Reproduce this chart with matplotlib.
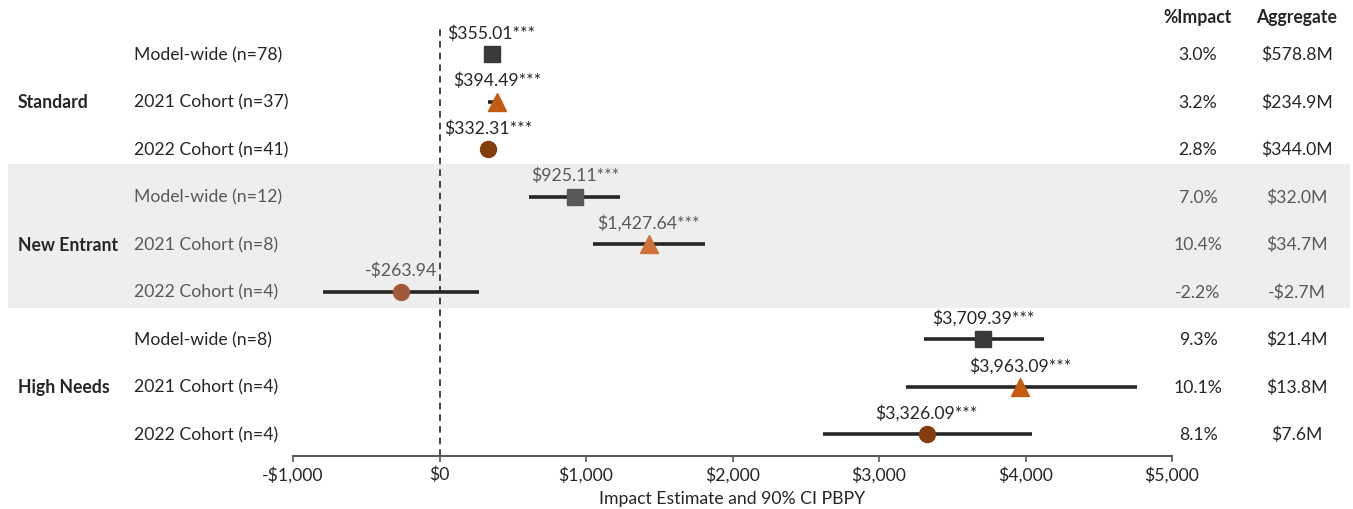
import matplotlib
matplotlib.use("Agg")
import matplotlib.pyplot as plt
from matplotlib.transforms import blended_transform_factory
from matplotlib.patches import Rectangle
from matplotlib.ticker import FuncFormatter

# ---- data ----
groups = ["Standard", "New Entrant", "High Needs"]
row_labels = ["Model-wide (n=78)", "2021 Cohort (n=37)", "2022 Cohort (n=41)",
              "Model-wide (n=12)", "2021 Cohort (n=8)", "2022 Cohort (n=4)",
              "Model-wide (n=8)", "2021 Cohort (n=4)", "2022 Cohort (n=4)"]
estimates = [355.01, 394.49, 332.31, 925.11, 1427.64, -263.94, 3709.39, 3963.09, 3326.09]
ci_low = [315, 334, 290, 614, 1051, -792, 3304, 3181, 2621]
ci_high = [395, 430, 375, 1235, 1809, 273, 4123, 4758, 4041]
stars = ["***", "***", "***", "***", "***", "", "***", "***", "***"]
pct_impact = ["3.0%", "3.2%", "2.8%", "7.0%", "10.4%", "-2.2%", "9.3%", "10.1%", "8.1%"]
aggregate = ["$578.8M", "$234.9M", "$344.0M", "$32.0M", "$34.7M", "-$2.7M",
             "$21.4M", "$13.8M", "$7.6M"]
x_ticks = [-1000, 0, 1000, 2000, 3000, 4000, 5000]

# ---- styling ----
FONT = "Lato"
FS = 12.7
plt.rcParams["font.family"] = [FONT, "DejaVu Sans"]
markers = ["s", "^", "o"]
msizes = [11.5, 13, 11.5]
colors_std = ["#3a3a3a", "#c55a11", "#843c0c"]
colors_ne = ["#595959", "#d0703a", "#a05a3a"]
text_dark = "#262626"
text_ne = "#595959"

W, H = 1353, 510
fig = plt.figure(figsize=(W / 100, H / 100), dpi=100)
ax = fig.add_axes([293 / W, 1 - 457 / H, (1172 - 293) / W, (457 - 30) / H])

rows = list(range(len(estimates)))
ax.set_xlim(-1000, 5000)
ax.set_ylim(8.46, -0.53)

bt = blended_transform_factory(fig.transFigure, ax.transData)

# shaded band behind the New Entrant group
band = Rectangle((8 / W, 2.32), (1350 - 8) / W, 3.03, transform=bt,
                 facecolor="#eeeeee", edgecolor="none", zorder=0, clip_on=False)
ax.add_patch(band)

# reference line at zero
ax.axvline(0, color="#262626", lw=1.2, ls=(0, (4, 3)), zorder=1)

for i in rows:
    g = i // 3
    k = i % 3
    is_ne = g == 1
    col = colors_ne[k] if is_ne else colors_std[k]
    ax.plot([ci_low[i], ci_high[i]], [i, i], color="#262626", lw=2.6,
            solid_capstyle="butt", zorder=2)
    ax.plot(estimates[i], i, marker=markers[k], ms=msizes[k], color=col,
            mec=col, ls="none", zorder=3)
    v = estimates[i]
    lab = ("-" if v < 0 else "") + "${:,.2f}".format(abs(v)) + stars[i]
    ax.annotate(lab, (v, i), xytext=(0, 15.5), textcoords="offset points",
                ha="center", va="center", fontsize=FS,
                color=text_ne if is_ne else text_dark, zorder=4)
    tc = text_ne if is_ne else text_dark
    ax.text(134 / W, i, row_labels[i], transform=bt, ha="left", va="center",
            fontsize=FS, color=tc, clip_on=False)
    ax.text(1198 / W, i, pct_impact[i], transform=bt, ha="center", va="center",
            fontsize=FS, color=tc, clip_on=False)
    ax.text(1297 / W, i, aggregate[i], transform=bt, ha="center", va="center",
            fontsize=FS, color=tc, clip_on=False)

for g, name in enumerate(groups):
    ax.text(18 / W, g * 3 + 1, name, transform=bt, ha="left", va="center",
            fontsize=FS, fontweight="bold", color=text_dark, clip_on=False)

fig.text(1198 / W, 1 - 18 / H, "%Impact", ha="center", va="center",
         fontsize=FS, fontweight="bold", color=text_dark)
fig.text(1297 / W, 1 - 18 / H, "Aggregate", ha="center", va="center",
         fontsize=FS, fontweight="bold", color=text_dark)

# axes cosmetics
for s in ["top", "right", "left"]:
    ax.spines[s].set_visible(False)
ax.spines["bottom"].set_color("#595959")
ax.spines["bottom"].set_linewidth(1.5)
ax.set_yticks([])
ax.set_xticks(x_ticks)
ax.xaxis.set_major_formatter(FuncFormatter(
    lambda v, p: ("-" if v < 0 else "") + "${:,.0f}".format(abs(v))))
ax.tick_params(axis="x", direction="out", length=4, width=1.2, color="#595959",
               labelsize=FS, labelcolor=text_dark, pad=3)
ax.set_xlabel("Impact Estimate and 90% CI PBPY", fontsize=FS, color=text_dark,
              labelpad=5)
ax.patch.set_alpha(0)

fig.savefig("out.png", dpi=100)
